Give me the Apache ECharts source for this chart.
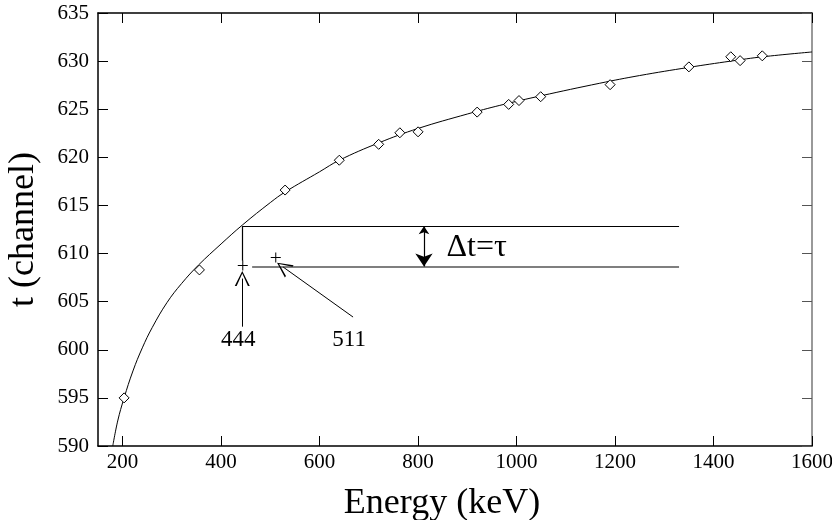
<!DOCTYPE html>
<html>
<head>
<meta charset="utf-8">
<script src="https://cdn.jsdelivr.net/npm/echarts@6/dist/echarts.min.js"></script>
<style>
  html, body { margin: 0; padding: 0; background: #fff; }
  #chart { width: 832px; height: 520px; }
</style>
</head>
<body>
<div id="chart"></div>
<script>
// measured points (energy keV, time channel)
const energies = [203, 356, 530, 640, 720, 763, 800, 920, 984, 1005, 1049, 1190, 1350, 1435, 1454, 1499];
const times = [595.0, 608.3, 616.6, 619.7, 621.35, 622.55, 622.65, 624.7, 625.5, 625.9, 626.3, 627.55, 629.4, 630.45, 630.05, 630.55];

// fitted curve
const curveE = [180, 190, 203, 221, 240, 260, 290, 320, 354, 400, 444, 500, 530, 600, 640, 720, 800, 900, 966, 1050, 1169, 1250, 1350, 1435, 1500, 1600];
const curveT = [590.0, 592.6, 595.0, 597.8, 600.2, 602.3, 604.9, 606.9, 608.8, 611.0, 613.0, 615.3, 616.4, 618.5, 619.7, 621.5, 623.0, 624.5, 625.4, 626.4, 627.7, 628.5, 629.35, 630.0, 630.45, 630.95];

// the two points marked with +
const plusE = [444, 511];
const plusT = [608.75, 609.6];

// tick labels
const xTicks = [200, 400, 600, 800, 1000, 1200, 1400, 1600];

// Δt box
const boxTop = 612.85;
const boxBottom = 608.65;
const boxRight = 1330;

let chart = echarts.init(document.getElementById('chart'));

const serif = 'Liberation Serif';

/**
 * V-shaped open arrow head, pointing up
 */
const openArrow = 'path://M4,0 L8,15 L7,15 L4,2.5 L1,15 L0,15 Z';

function zip(a, b) {
  let out = [];
  for (let i = 0; i < a.length; i++) {
    out.push([a[i], b[i]]);
  }
  return out;
}

function plainLine(coords, color, width) {
  return {
    coords: coords,
    lineStyle: { color: color, width: width, opacity: 1 }
  };
}

let option = {
  backgroundColor: '#fff',
  animation: false,
  grid: { left: 98, right: 20, top: 13, bottom: 74, outerBoundsMode: 'none' },
  xAxis: [{
    type: 'value',
    min: 150,
    max: 1600,
    name: 'Energy (keV)',
    nameLocation: 'middle',
    nameGap: 40,
    nameTextStyle: { fontFamily: serif, fontSize: 36, color: '#000', padding: [0, 26, 0, 0] },
    axisLine: { show: true, onZero: false, lineStyle: { color: '#000', width: 1.5 } },
    axisTick: { show: true, inside: true, length: 10, customValues: xTicks, lineStyle: { color: '#000' } },
    axisLabel: {
      customValues: xTicks,
      formatter: v => String(v),
      fontFamily: serif, fontSize: 21, color: '#000', margin: 6
    },
    splitLine: { show: false }
  }, {
    type: 'value',
    position: 'top',
    min: 150,
    max: 1600,
    axisLine: { show: true, onZero: false, lineStyle: { color: '#000', width: 1.5 } },
    axisTick: { show: true, inside: true, length: 10, customValues: xTicks, lineStyle: { color: '#000' } },
    axisLabel: { show: false },
    splitLine: { show: false }
  }],
  yAxis: [{
    type: 'value',
    min: 590,
    max: 635,
    interval: 5,
    name: 't (channel)',
    nameLocation: 'middle',
    nameGap: 56,
    nameTextStyle: { fontFamily: serif, fontSize: 36, color: '#000' },
    axisLine: { show: true, onZero: false, lineStyle: { color: '#000', width: 1.5 } },
    axisTick: { show: true, inside: true, length: 10, lineStyle: { color: '#000' } },
    axisLabel: { fontFamily: serif, fontSize: 21, color: '#000', margin: 9 },
    splitLine: { show: false }
  }, {
    type: 'value',
    position: 'right',
    min: 590,
    max: 635,
    interval: 5,
    axisLine: { show: true, onZero: false, lineStyle: { color: '#777', width: 1.5 } },
    axisTick: { show: true, inside: true, length: 10, lineStyle: { color: '#555' } },
    axisLabel: { show: false },
    splitLine: { show: false }
  }],
  series: [{
    // fitted curve
    type: 'line',
    data: zip(curveE, curveT),
    smooth: 0.4,
    showSymbol: false,
    lineStyle: { color: '#000', width: 1 },
    z: 2
  }, {
    // measured points
    type: 'scatter',
    data: zip(energies, times),
    symbol: 'diamond',
    symbolSize: 10,
    itemStyle: { color: '#fff', borderColor: '#000', borderWidth: 1, opacity: 1 },
    z: 5
  }, {
    // + markers
    type: 'scatter',
    data: zip(plusE, plusT),
    symbol: 'path://M0,4.5 L10,4.5 L10,5.5 L0,5.5 Z M4.5,0 L5.5,0 L5.5,10 L4.5,10 Z',
    symbolSize: 10,
    itemStyle: { color: '#000', opacity: 1 },
    z: 5
  }, {
    // box lines
    type: 'lines',
    coordinateSystem: 'cartesian2d',
    symbol: 'none',
    silent: true,
    data: [
      plainLine([[443, boxTop], [boxRight, boxTop]], '#000', 1.2),
      plainLine([[443, boxTop], [443, 609.25]], '#000', 1.2),
      plainLine([[463, boxBottom], [boxRight, boxBottom]], '#555', 1.6)
    ],
    z: 3
  }, {
    // double arrow Δt
    type: 'lines',
    coordinateSystem: 'cartesian2d',
    symbol: ['arrow', 'arrow'],
    symbolSize: [8, 13],
    silent: true,
    lineStyle: { color: '#000', width: 1.2, opacity: 1 },
    data: [{ coords: [[812, boxTop], [812, boxBottom]] }],
    z: 3
  }, {
    // pointer arrows for 444 and 511
    type: 'lines',
    coordinateSystem: 'cartesian2d',
    symbol: ['none', openArrow],
    symbolSize: [8, 15],
    silent: true,
    lineStyle: { color: '#000', width: 1, opacity: 1 },
    data: [
      { coords: [[443, 602.4], [443, 607.4]] },
      { coords: [[668, 603.4], [526, 608.6]] }
    ],
    z: 3
  }, {
    // text labels
    type: 'scatter',
    symbol: 'circle',
    symbolSize: 1,
    silent: true,
    itemStyle: { color: 'rgba(0,0,0,0)', opacity: 1 },
    data: [
      { value: [436, 601.0], label: { formatter: '444' } },
      { value: [661, 601.0], label: { formatter: '511' } },
      { value: [920, 610.6], label: { formatter: 'Δt=τ', fontSize: 32 } }
    ],
    label: {
      show: true,
      position: [0, 0],
      align: 'center',
      verticalAlign: 'middle',
      fontFamily: serif,
      fontSize: 23,
      color: '#000',
      textBorderWidth: 0
    },
    z: 6
  }]
};

chart.setOption(option);
</script>
</body>
</html>
